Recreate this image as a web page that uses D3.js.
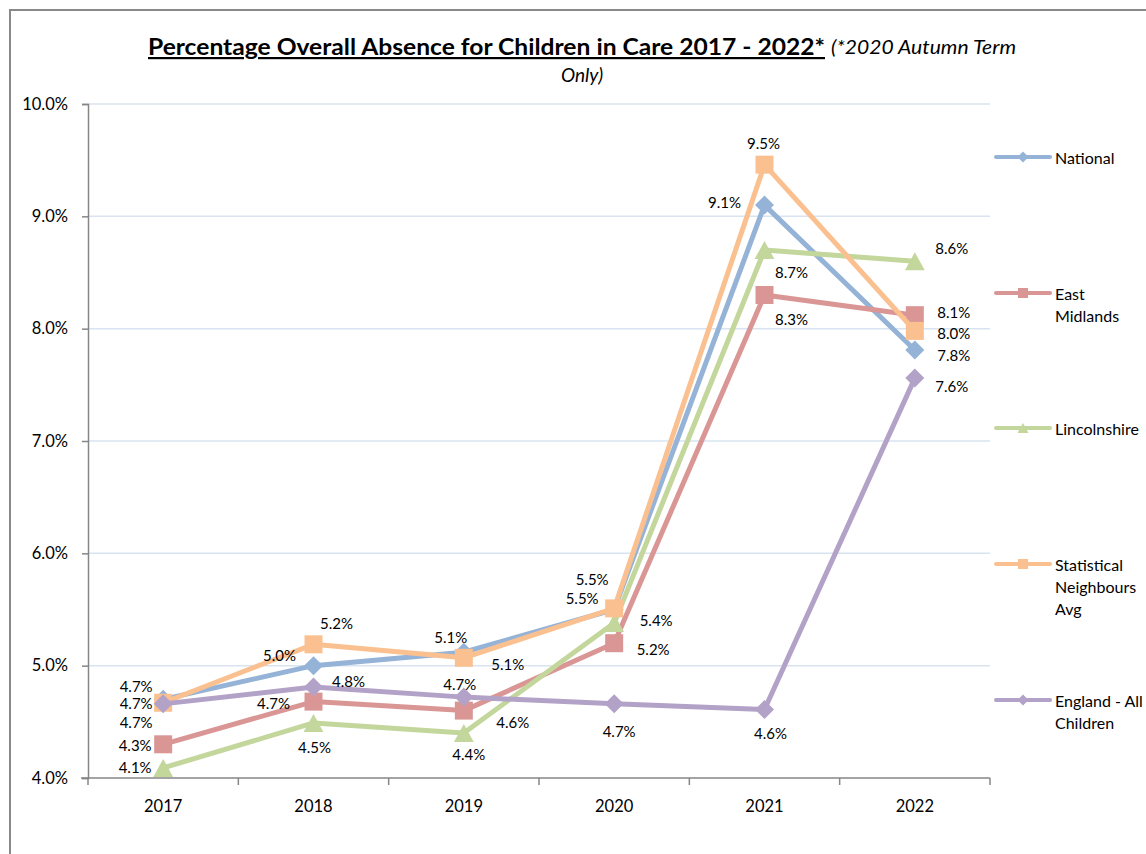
<!DOCTYPE html>
<html>
<head>
<meta charset="utf-8">
<script src="https://cdn.jsdelivr.net/npm/d3@7"></script>
<style>
  html, body { margin: 0; padding: 0; background: #fff; }
  svg { display: block; font-family: Lato, "Open Sans", sans-serif; }
</style>
</head>
<body>
<svg id="chart" width="1146" height="854"></svg>
<script>
// Percentage overall absence, children in care, by academic year
const years = ["2017", "2018", "2019", "2020", "2021", "2022"];
const national       = [4.70, 5.00, 5.12, 5.50, 9.10, 7.81];
const eastMidlands   = [4.30, 4.68, 4.60, 5.20, 8.30, 8.12];
const lincolnshire   = [4.09, 4.49, 4.40, 5.38, 8.70, 8.60];
const statNeighbours = [4.67, 5.19, 5.07, 5.51, 9.46, 7.98];
const englandAll     = [4.66, 4.81, 4.72, 4.66, 4.61, 7.56];
const yTicks = [4, 5, 6, 7, 8, 9, 10];

const seriesNames = ["National", "East Midlands", "Lincolnshire", "Statistical Neighbours Avg", "England - All Children"];
const legendLines = [["National"], ["East", "Midlands"], ["Lincolnshire"], ["Statistical", "Neighbours", "Avg"], ["England - All", "Children"]];

// Styling per series
const colors  = ["#95b3d7", "#d99694", "#c3d69b", "#fac090", "#b3a2c7"];
const symbols = ["diamond", "square", "triangle", "square", "diamond"];

// Data-label nudges [dx, dy] relative to each point
const labelNudge = [
  [[-27,-13], [-34,-11], [-13,-15], [-22,-31], [-40,-3], [39,5]],
  [[-28,1], [-40,1], [49,11], [39,6], [27,24], [39,-3]],
  [[-28,-1], [1,24], [5,21], [42,-3], [27,22], [37,-13]],
  [[-27,0], [23,-21], [44,6], [-32,-10], [-1,-22], [39,2]],
  [[-27,18], [35,-6], [-4,-13], [5,27], [6,24], [37,8]]
];

const seriesValues = [national, eastMidlands, lincolnshire, statNeighbours, englandAll];
const series = seriesNames.map((name, i) => ({
  name, values: seriesValues[i], color: colors[i], symbol: symbols[i], nudge: labelNudge[i], legend: legendLines[i]
}));

const svg = d3.select("#chart");
const plot = { left: 88, right: 990, top: 104, bottom: 778 };

const x = d3.scaleBand().domain(years).range([plot.left, plot.right]);
const cx = d => x(d) + x.bandwidth() / 2;
const y = d3.scaleLinear().domain([4, 10]).range([plot.bottom, plot.top]);
const fmtLabel = v => d3.format(".1%")(v / 100);

function markerPath(type, s) {
  if (type === "diamond") return `M0,${-s}L${s},0L0,${s}L${-s},0Z`;
  if (type === "square") return `M${-s},${-s}h${2*s}v${2*s}h${-2*s}Z`;
  return `M0,${-s}L${s * 1.1},${s}L${-s * 1.1},${s}Z`;
}

// Outer frame
svg.append("path")
  .attr("d", "M10,854V10H1146")
  .attr("fill", "none").attr("stroke", "#898989").attr("stroke-width", 2);

// Title
svg.append("text").attr("x", 148).attr("y", 55)
  .attr("font-size", 22).attr("font-weight", "bold")
  .attr("text-decoration", "underline")
  .attr("textLength", 677).attr("lengthAdjust", "spacingAndGlyphs")
  .text("Percentage Overall Absence for Children in Care 2017 - 2022*");
svg.append("text").attr("x", 831).attr("y", 54)
  .attr("font-style", "italic").attr("font-size", 19)
  .attr("textLength", 185).attr("lengthAdjust", "spacingAndGlyphs")
  .text("(*2020 Autumn Term");
svg.append("text").attr("x", 582).attr("y", 82).attr("text-anchor", "middle")
  .attr("font-style", "italic").attr("font-size", 19).text("Only)");

// Gridlines
svg.append("g").selectAll("line").data(yTicks.filter(t => t > 4)).join("line")
  .attr("x1", plot.left).attr("x2", plot.right)
  .attr("y1", d => y(d)).attr("y2", d => y(d))
  .attr("stroke", "#d9e3f1").attr("stroke-width", 1.5);

// Y axis
const yAxis = svg.append("g").attr("transform", `translate(${plot.left},0)`)
  .call(d3.axisLeft(y).tickValues(yTicks).tickFormat(d => d.toFixed(1) + "%").tickSize(6).tickPadding(14));
yAxis.select(".domain").attr("stroke", "#868686").attr("stroke-width", 1.5);
yAxis.selectAll(".tick line").attr("stroke", "#868686").attr("stroke-width", 1.5);
yAxis.selectAll(".tick text").attr("font-size", 16.5).attr("fill", "#000").attr("font-family", "Lato");

// X axis with ticks on category boundaries
const xAxis = svg.append("g").attr("transform", `translate(0,${plot.bottom})`)
  .call(d3.axisBottom(x).tickSize(0).tickPadding(22));
xAxis.select(".domain").attr("stroke", "#868686").attr("stroke-width", 1.5)
  .attr("d", `M${plot.left - 7},0H${plot.right}`);
xAxis.selectAll(".tick text").attr("font-size", 16.5).attr("fill", "#000").attr("font-family", "Lato");
xAxis.selectAll("line.boundary").data(years.map(d => x(d)).concat([plot.right])).join("line")
  .attr("class", "boundary")
  .attr("x1", d => d).attr("x2", d => d).attr("y1", 0).attr("y2", 7)
  .attr("stroke", "#868686").attr("stroke-width", 1.5);

// Series lines and markers
const line = d3.line().x((d, i) => cx(years[i])).y(d => y(d));
series.forEach(s => {
  const g = svg.append("g");
  g.append("path").datum(s.values).attr("d", line)
    .attr("fill", "none").attr("stroke", s.color).attr("stroke-width", 5)
    .attr("stroke-linejoin", "round").attr("stroke-linecap", "round");
  g.selectAll("path.mark").data(s.values).join("path").attr("class", "mark")
    .attr("transform", (d, i) => `translate(${cx(years[i])},${y(d)})`)
    .attr("d", markerPath(s.symbol, s.symbol === "diamond" ? 9.5 : 9))
    .attr("fill", s.color);
});

// Data labels
series.forEach(s => {
  svg.append("g").selectAll("text").data(s.values).join("text")
    .attr("x", (d, i) => cx(years[i]) + s.nudge[i][0])
    .attr("y", (d, i) => y(d) + s.nudge[i][1])
    .attr("text-anchor", "middle").attr("dominant-baseline", "central")
    .attr("font-size", 15).attr("fill", "#000")
    .text(d => fmtLabel(d));
});

// Legend
const legendY = [157, 293, 428, 564, 700];
series.forEach((s, i) => {
  const g = svg.append("g").attr("transform", `translate(996,${legendY[i]})`);
  g.append("line").attr("x1", 0).attr("x2", 54).attr("stroke", s.color)
    .attr("stroke-width", 4).attr("stroke-linecap", "round");
  g.append("path").attr("transform", "translate(27,0)")
    .attr("d", markerPath(s.symbol, s.symbol === "diamond" ? 5.5 : 5)).attr("fill", s.color);
  const t = g.append("text").attr("x", 59).attr("font-size", 16).attr("fill", "#000");
  s.legend.forEach((ln, k) => {
    t.append("tspan").attr("x", 59).attr("y", k * 22).attr("dominant-baseline", "central").text(ln);
  });
});
</script>
</body>
</html>
